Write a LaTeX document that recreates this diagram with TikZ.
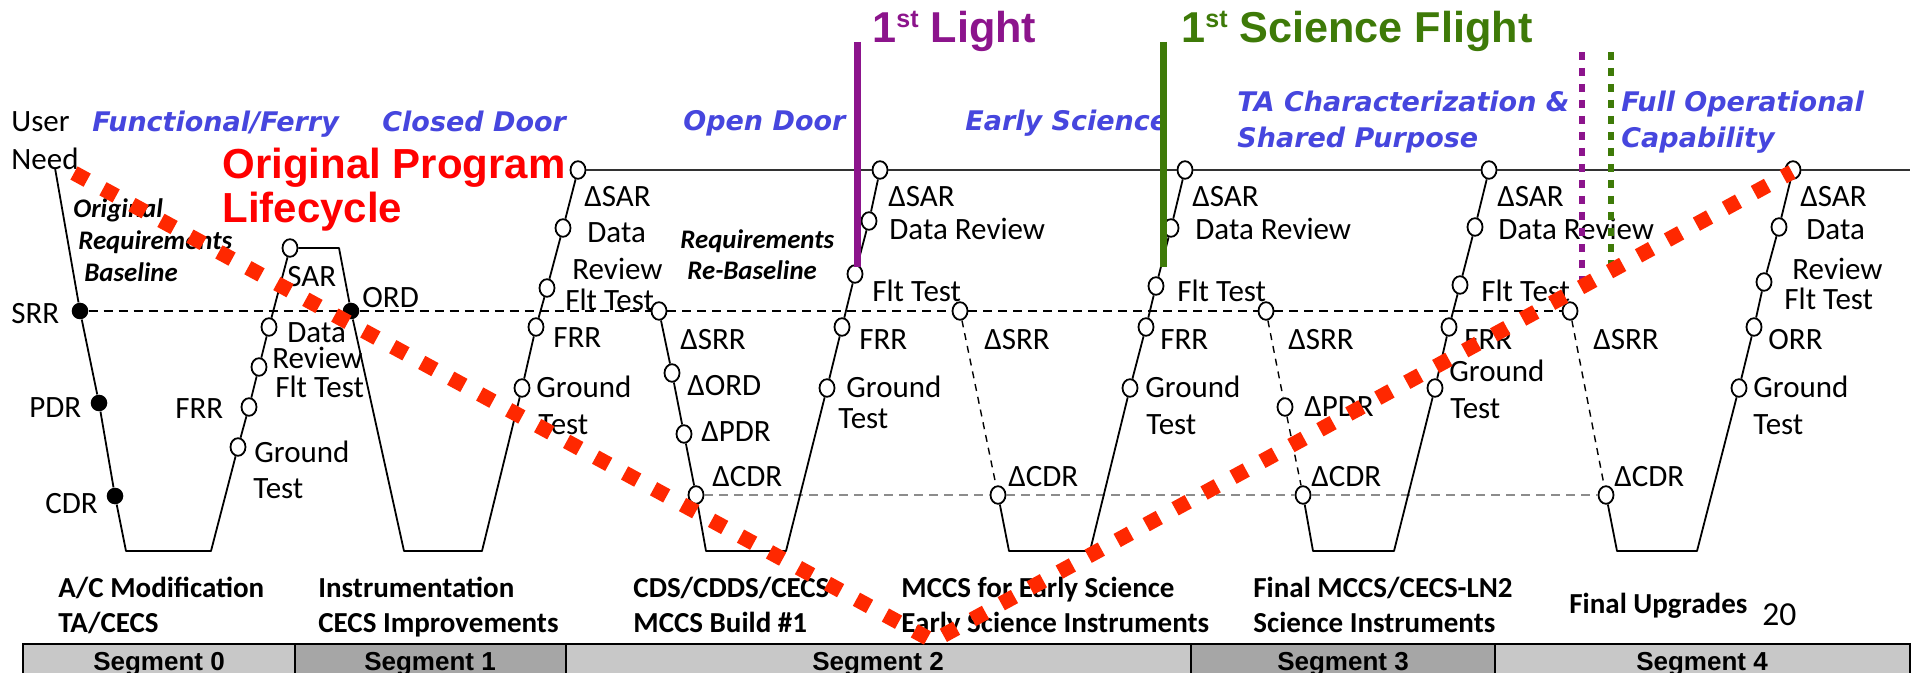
\documentclass[tikz,border=0pt]{standalone}
\usepackage{fontspec}
\setmainfont{Carlito}
\newfontfamily\arialf{Liberation Sans}
\newfontfamily\verdf{DejaVu Sans}[BoldFont={DejaVu Sans Bold},ItalicFont={DejaVu Sans Oblique},BoldItalicFont={DejaVu Sans Bold Oblique}]
\usetikzlibrary{shapes.geometric}
\definecolor{phaseblue}{RGB}{70,70,222}
\definecolor{litpurple}{RGB}{140,20,140}
\definecolor{scigreen}{RGB}{62,122,8}
\definecolor{redline}{RGB}{255,40,0}
\definecolor{seglight}{RGB}{200,200,200}
\definecolor{segdark}{RGB}{166,166,166}
\definecolor{topgray}{RGB}{50,50,50}
\begin{document}
\begin{tikzpicture}[x=0.5pt,y=-0.5pt,
  ln/.style={line width=0.9pt, black, line join=round},
  dsh/.style={line width=0.8pt, black, dash pattern=on 4.5pt off 3pt},
  thindsh/.style={line width=0.7pt, black, dash pattern=on 3.5pt off 3pt},
  gdsh/.style={line width=0.8pt, black!45, dash pattern=on 4.5pt off 3pt},
  ms/.style={ellipse, draw, line width=0.9pt, fill=white, minimum width=7.5pt, minimum height=8.8pt, inner sep=0pt},
  msf/.style={circle, fill=black, minimum size=8.3pt, inner sep=0pt},
  lbl/.style={anchor=base west, inner sep=0pt, font=\fontsize{15.5}{18}\selectfont},
  blbl/.style={anchor=base west, inner sep=0pt, font=\fontsize{14.5}{17}\selectfont\bfseries},
  bilbl/.style={anchor=base west, inner sep=0pt, font=\fontsize{13.4}{15}\selectfont\bfseries\itshape},
  phasel/.style={anchor=base west, inner sep=0pt, text=phaseblue, font=\verdf\fontsize{13.5}{16}\selectfont\bfseries\itshape},
  ttl/.style={anchor=base west, inner sep=0pt, font=\arialf\fontsize{21}{25}\selectfont\bfseries},
  bigt/.style={anchor=base west, inner sep=0pt, font=\arialf\fontsize{21.6}{25}\selectfont\bfseries},
  segt/.style={anchor=base, inner sep=0pt, font=\arialf\fontsize{13}{15}\selectfont\bfseries},
  redd/.style={line width=7.5pt, redline, dash pattern=on 7.5pt off 9pt},
]
\useasboundingbox (0,0) rectangle (1916,673);
\clip (0,0) rectangle (1916,673);

% ---------- segment bar ----------
\path[draw=black, line width=1.3pt, fill=seglight] (23,644) rectangle (295,690);
\path[draw=black, line width=1.3pt, fill=segdark] (295,644) rectangle (566,690);
\path[draw=black, line width=1.3pt, fill=seglight] (566,644) rectangle (1191,690);
\path[draw=black, line width=1.3pt, fill=segdark] (1191,644) rectangle (1495,690);
\path[draw=black, line width=1.3pt, fill=seglight] (1495,644) rectangle (1910,690);
\node[segt] (sg0) at (159,670) {Segment 0};
\node[segt] (sg1) at (430,670) {Segment 1};
\node[segt] (sg2) at (878,670) {Segment 2};
\node[segt] (sg3) at (1343,670) {Segment 3};
\node[segt] (sg4) at (1702,670) {Segment 4};

% ---------- coordinates ----------
\coordinate (un) at (55,168);
\coordinate (b0l) at (126,551); \coordinate (b0r) at (211,551);
\coordinate (t1r) at (339,248);
\coordinate (b1l) at (404,551); \coordinate (b1r) at (482,551);
\coordinate (b2l) at (706,551); \coordinate (b2r) at (786,551);
\coordinate (b3l) at (1009,551); \coordinate (b3r) at (1090,551);
\coordinate (b4l) at (1313,551); \coordinate (b4r) at (1394,551);
\coordinate (b5l) at (1617,551); \coordinate (b5r) at (1697,551);
\coordinate (topend) at (1910,170);

% ---------- milestones ----------
\node[msf] (srr0) at (80,311) {};
\node[msf] (pdr0) at (99,403) {};
\node[msf] (cdr0) at (115,496) {};
\node[ms] (gt0) at (238,447) {};
\node[ms] (frr0) at (249,407) {};
\node[ms] (flt0) at (259,367) {};
\node[ms] (dat0) at (269,327) {};
\node[ms] (sar0) at (290,248) {};
\node[msf] (ord1) at (351,311) {};
\node[ms] (gt1) at (522,388) {};
\node[ms] (frr1) at (536,327) {};
\node[ms] (flt1) at (547,288) {};
\node[ms] (dat1) at (563,228) {};
\node[ms] (sar1) at (578,170) {};
\node[ms] (srr2) at (659,311) {};
\node[ms] (ord2) at (672,373) {};
\node[ms] (pdr2) at (684,434) {};
\node[ms] (cdr2) at (696,495) {};
\node[ms] (gt2) at (827,388) {};
\node[ms] (frr2) at (842,327) {};
\node[ms] (flt2) at (855,274) {};
\node[ms] (dat2) at (869,221) {};
\node[ms] (sar2) at (880,170) {};
\node[ms] (srr3) at (960,311) {};
\node[ms] (cdr3) at (998,495) {};
\node[ms] (gt3) at (1130,388) {};
\node[ms] (frr3) at (1146,327) {};
\node[ms] (flt3) at (1156,286) {};
\node[ms] (dat3) at (1171,228) {};
\node[ms] (sar3) at (1185,170) {};
\node[ms] (srr4) at (1266,311) {};
\node[ms] (pdr4) at (1285,407) {};
\node[ms] (cdr4) at (1303,495) {};
\node[ms] (gt4) at (1435,388) {};
\node[ms] (frr4) at (1449,327) {};
\node[ms] (flt4) at (1460,285) {};
\node[ms] (dat4) at (1475,227) {};
\node[ms] (sar4) at (1489,170) {};
\node[ms] (srr5) at (1570,311) {};
\node[ms] (cdr5) at (1606,495) {};
\node[ms] (gt5) at (1739,388) {};
\node[ms] (orr5) at (1754,327) {};
\node[ms] (flt5) at (1764,282) {};
\node[ms] (dat5) at (1779,227) {};
\node[ms] (sar5) at (1793,170) {};

% ---------- connectors ----------
\draw[dsh] (srr0) -- (ord1) -- (srr2) -- (srr3) -- (srr4) -- (srr5);
\draw[gdsh] (cdr2) -- (cdr3) -- (cdr4) -- (cdr5);
\draw[line width=1.2pt, topgray] (sar1) -- (sar2) -- (sar3) -- (sar4) -- (sar5) -- (topend);
\draw[ln] (un) -- (srr0) -- (pdr0) -- (cdr0) -- (b0l) -- (b0r) -- (gt0) -- (frr0) -- (flt0) -- (dat0) -- (sar0);
\draw[ln] (sar0) -- (t1r) -- (ord1) -- (b1l) -- (b1r) -- (gt1) -- (frr1) -- (flt1) -- (dat1) -- (sar1);
\draw[ln] (srr2) -- (ord2) -- (pdr2) -- (cdr2) -- (b2l) -- (b2r) -- (gt2) -- (frr2) -- (flt2) -- (dat2) -- (sar2);
\draw[thindsh] (srr3) -- (cdr3);
\draw[ln] (cdr3) -- (b3l) -- (b3r) -- (gt3) -- (frr3) -- (flt3) -- (dat3) -- (sar3);
\draw[thindsh] (srr4) -- (pdr4) -- (cdr4);
\draw[ln] (cdr4) -- (b4l) -- (b4r) -- (gt4) -- (frr4) -- (flt4) -- (dat4) -- (sar4);
\draw[thindsh] (srr5) -- (cdr5);
\draw[ln] (cdr5) -- (b5l) -- (b5r) -- (gt5) -- (orr5) -- (flt5) -- (dat5) -- (sar5);

% ---------- labels V0 / V1 ----------
\node[lbl] (tuser) at (11,132) {User};
\node[lbl] (tneed) at (11,170) {Need};
\node[lbl] (tsrr0) at (11,324) {SRR};
\node[lbl] (tpdr0) at (29,417) {PDR};
\node[lbl] (tcdr0) at (45,513) {CDR};
\node[bilbl] (tor1) at (73,218) {Original};
\node[bilbl] (tor2) at (78,250) {Requirements};
\node[bilbl] (tor3) at (84,282) {Baseline};
\node[lbl] (tsar0) at (287,287) {SAR};
\node[lbl] (tord1) at (362,308) {ORD};
\node[lbl] (tdat0) at (287,343) {Data};
\node[lbl] (trev0) at (272,369) {Review};
\node[lbl] (tflt0) at (275,398) {Flt Test};
\node[lbl] (tfrr0) at (175,419) {FRR};
\node[lbl] (tgr0) at (254,462) {Ground};
\node[lbl] (tte0) at (253,498) {Test};
\node[lbl] (tsar1) at (584,207) {ΔSAR};
\node[lbl] (tdat1) at (587,243) {Data};
\node[lbl] (trev1) at (572,280) {Review};
\node[lbl] (tflt1) at (565,311) {Flt Test};
\node[lbl] (tfrr1) at (553,348) {FRR};
\node[lbl] (tgr1) at (536,398) {Ground};
\node[lbl] (tte1) at (538,435) {Test};

% ---------- labels V2 ----------
\node[lbl] (tsrr2) at (680,350) {ΔSRR};
\node[lbl] (tord2) at (687,395) {ΔORD};
\node[lbl] (tpdr2) at (701,442) {ΔPDR};
\node[lbl] (tcdr2) at (712,487) {ΔCDR};
\node[lbl] (tfrr2) at (859,350) {FRR};
\node[lbl] (tgr2) at (846,398) {Ground};
\node[lbl] (tte2) at (838,429) {Test};
\node[lbl] (tsar2) at (888,207) {ΔSAR};
\node[lbl] (tdat2) at (889,240) {Data Review};
\node[lbl] (tflt2) at (872,302) {Flt Test};
\node[bilbl] (trb1) at (680,249) {Requirements};
\node[bilbl] (trb2) at (687,280) {Re-Baseline};

% ---------- labels V3 ----------
\node[lbl] (tsrr3) at (984,350) {ΔSRR};
\node[lbl] (tcdr3) at (1008,487) {ΔCDR};
\node[lbl] (tfrr3) at (1160,350) {FRR};
\node[lbl] (tgr3) at (1145,398) {Ground};
\node[lbl] (tte3) at (1146,435) {Test};
\node[lbl] (tsar3) at (1192,207) {ΔSAR};
\node[lbl] (tdat3) at (1195,240) {Data Review};
\node[lbl] (tflt3) at (1177,302) {Flt Test};

% ---------- labels V4 ----------
\node[lbl] (tsrr4) at (1288,350) {ΔSRR};
\node[lbl] (tpdr4) at (1304,416) {ΔPDR};
\node[lbl] (tcdr4) at (1311,487) {ΔCDR};
\node[lbl] (tfrr4) at (1464,350) {FRR};
\node[lbl] (tgr4) at (1449,382) {Ground};
\node[lbl] (tte4) at (1450,419) {Test};
\node[lbl] (tsar4) at (1497,207) {ΔSAR};
\node[lbl] (tdat4) at (1498,240) {Data Review};
\node[lbl] (tflt4) at (1481,302) {Flt Test};

% ---------- labels V5 ----------
\node[lbl] (tsrr5) at (1593,350) {ΔSRR};
\node[lbl] (tcdr5) at (1614,487) {ΔCDR};
\node[lbl] (torr5) at (1768,350) {ORR};
\node[lbl] (tgr5) at (1753,398) {Ground};
\node[lbl] (tte5) at (1753,435) {Test};
\node[lbl] (tsar5) at (1800,207) {ΔSAR};
\node[lbl] (tdat5) at (1806,240) {Data};
\node[lbl] (trev5) at (1792,280) {Review};
\node[lbl] (tflt5) at (1784,310) {Flt Test};

% ---------- bottom descriptions ----------
\node[blbl] (d0a) at (58,597) {A/C Modification};
\node[blbl] (d0b) at (58,632) {TA/CECS};
\node[blbl] (d1a) at (318,597) {Instrumentation};
\node[blbl] (d1b) at (318,632) {CECS Improvements};
\node[blbl] (d2a) at (633,597) {CDS/CDDS/CECS};
\node[blbl] (d2b) at (633,632) {MCCS Build \#1};
\node[blbl] (d3a) at (901,597) {MCCS for Early Science};
\node[blbl] (d3b) at (901,632) {Early Science Instruments};
\node[blbl] (d4a) at (1253,597) {Final MCCS/CECS-LN2};
\node[blbl] (d4b) at (1253,632) {Science Instruments};
\node[blbl] (d5a) at (1569,613) {Final Upgrades};
\node[anchor=base west, inner sep=0pt, font=\fontsize{16.8}{19}\selectfont] (pgno) at (1762,625) {20};

% ---------- phase labels ----------
\node[phasel] (ph0) at (92,132) {Functional/Ferry};
\node[phasel] (ph1) at (382,132) {Closed Door};
\node[phasel] (ph2) at (683,131) {Open Door};
\node[phasel] (ph3) at (965,131) {Early Science};
\node[phasel] (ph4a) at (1237,112) {TA Characterization \&};
\node[phasel] (ph4b) at (1237,148) {Shared Purpose};
\node[phasel] (ph5a) at (1621,112) {Full Operational};
\node[phasel] (ph5b) at (1621,148) {Capability};

% ---------- title ----------
\node[ttl, text=red] (ttl1) at (222,179) {Original Program};
\node[ttl, text=red] (ttl2) at (222,223) {Lifecycle};

% ---------- first light / first science ----------
\coordinate (pl1) at (857,42); \coordinate (pl2) at (857,267);
\coordinate (gl1) at (1163,42); \coordinate (gl2) at (1163,267);
\draw[litpurple, line width=3.5pt] (pl1) -- (pl2);
\draw[scigreen, line width=3.5pt] (gl1) -- (gl2);
\node[bigt, text=litpurple] (lt) at (872,43) {1\raisebox{7.5pt}{\fontsize{12.5}{13}\selectfont st} Light};
\node[bigt, text=scigreen] (sf) at (1181,43) {1\raisebox{7.5pt}{\fontsize{12.5}{13}\selectfont st} Science Flight};
\coordinate (pd1) at (1582,52); \coordinate (pd2) at (1582,282);
\coordinate (gd1) at (1611,52); \coordinate (gd2) at (1611,267);
\draw[litpurple, line width=3pt, dash pattern=on 4pt off 4pt] (pd1) -- (pd2);
\draw[scigreen, line width=3pt, dash pattern=on 4pt off 4pt] (gd1) -- (gd2);

% ---------- red dotted original lifecycle ----------
\coordinate (rd0) at (74,173);
\coordinate (rd1) at (933,641);
\coordinate (rd2) at (1792,172);
\draw[redd] (rd0) -- (rd1) -- (rd2);
\end{tikzpicture}
\end{document}
